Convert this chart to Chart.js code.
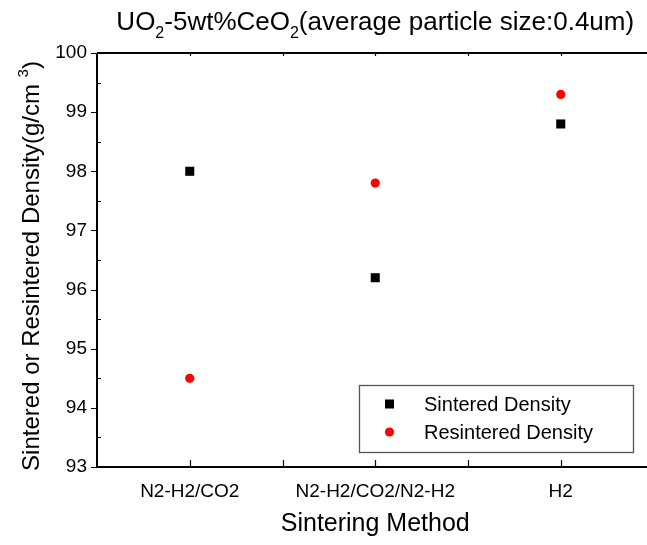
<!DOCTYPE html>
<html>
<head>
<meta charset="utf-8">
<script src="https://cdn.jsdelivr.net/npm/chart.js@4"></script>
<style>
  html, body { margin: 0; padding: 0; background: #fff; }
  #wrap { width: 647px; height: 545px; }
</style>
</head>
<body>
<div id="wrap"><canvas id="density_chart" width="647" height="545"></canvas></div>
<script>
const methods = ['N2-H2/CO2', 'N2-H2/CO2/N2-H2', 'H2'];
const sinteredDensity = [98.0, 96.2, 98.8];
const resinteredDensity = [94.5, 97.8, 99.3];
const xTicks = [1, 1.5, 2, 2.5, 3];
const yTicks = [93, 93.5, 94, 94.5, 95, 95.5, 96, 96.5, 97, 97.5, 98, 98.5, 99, 99.5, 100];

const FONT = "'Liberation Sans', Arial, sans-serif";

function toPoints(values) {
    return values.map(function(v, i) { return {x: i + 1, y: v}; });
}

// draws a run of text pieces, some of them sub/superscript
function drawRich(ctx, parts, x, y, size, align) {
    var small = Math.round(size * 0.62);
    var widths = parts.map(function(p) {
        ctx.font = (p.sub || p.sup ? small : size) + 'px ' + FONT;
        return ctx.measureText(p.t).width;
    });
    var total = widths.reduce(function(a, b) { return a + b; }, 0);
    var cx = align === 'center' ? x - total / 2 : x;
    ctx.textAlign = 'left';
    ctx.textBaseline = 'alphabetic';
    parts.forEach(function(p, i) {
        ctx.font = (p.sub || p.sup ? small : size) + 'px ' + FONT;
        var dy = p.sub ? size * 0.3 : (p.sup ? -size * 0.45 : 0);
        ctx.fillText(p.t, cx, y + dy);
        cx += widths[i];
    });
}

const decorPlugin = {
    id: 'decor',
    afterDraw: function(chart) {
        var ctx = chart.ctx, a = chart.chartArea;
        var xs = chart.scales.x, ys = chart.scales.y;
        ctx.save();
        ctx.strokeStyle = '#000';
        ctx.lineWidth = 2;
        ctx.beginPath();
        ctx.moveTo(a.left, a.top); ctx.lineTo(a.right, a.top);
        ctx.moveTo(a.left, a.top); ctx.lineTo(a.left, a.bottom);
        ctx.moveTo(a.left, a.bottom); ctx.lineTo(a.right, a.bottom);
        ctx.stroke();

        ctx.lineWidth = 1.2;
        ctx.beginPath();
        yTicks.forEach(function(v) {
            var py = Math.round(ys.getPixelForValue(v)) + 0.5;
            if (Number.isInteger(v)) {
                ctx.moveTo(a.left - 6, py); ctx.lineTo(a.left, py);
            } else {
                ctx.moveTo(a.left, py); ctx.lineTo(a.left + 4, py);
            }
        });
        xTicks.forEach(function(v) {
            var px = Math.round(xs.getPixelForValue(v)) + 0.5;
            ctx.moveTo(px, a.bottom); ctx.lineTo(px, a.bottom - 7);
            ctx.moveTo(px, a.top); ctx.lineTo(px, a.top + 3);
        });
        ctx.stroke();

        ctx.fillStyle = '#000';
        var mid = xs.getPixelForValue(2);
        drawRich(ctx, [{t: 'UO'}, {t: '2', sub: true}, {t: '-5wt%CeO'}, {t: '2', sub: true},
            {t: '(average particle size:0.4um)'}], mid, 30, 26, 'center');

        ctx.font = '25px ' + FONT;
        ctx.textAlign = 'center';
        ctx.textBaseline = 'alphabetic';
        ctx.fillText('Sintering Method', mid, 531);

        ctx.save();
        ctx.translate(39, (a.top + a.bottom) / 2 + 6);
        ctx.rotate(-Math.PI / 2);
        drawRich(ctx, [{t: 'Sintered or Resintered Density(g/cm '}, {t: '3', sup: true}, {t: ')'}],
            0, 0, 24, 'center');
        ctx.restore();

        // legend box
        var bx = 359, by = 385, bw = 274, bh = 67;
        ctx.strokeStyle = '#555';
        ctx.lineWidth = 1.3;
        ctx.strokeRect(bx + 0.5, by + 0.5, bw, bh);
        ctx.font = '20px ' + FONT;
        ctx.textAlign = 'left';
        ctx.textBaseline = 'middle';
        chart.data.datasets.forEach(function(ds, i) {
            var ly = by + 19 + i * 28;
            ctx.fillStyle = ds.backgroundColor;
            if (ds.pointStyle === 'rect') {
                ctx.fillRect(bx + 26, ly - 4.5, 9, 9);
            } else {
                ctx.beginPath();
                ctx.arc(bx + 30.5, ly, 4.6, 0, Math.PI * 2);
                ctx.fill();
            }
            ctx.fillStyle = '#000';
            ctx.fillText(ds.label, bx + 65, ly + 1);
        });
        ctx.restore();
    }
};

var ctx_density = document.getElementById('density_chart').getContext('2d');
var densityChart = new Chart(ctx_density, {
    type: 'scatter',
    data: {
        datasets: [{
            label: 'Sintered Density',
            data: toPoints(sinteredDensity),
            pointStyle: 'rect',
            backgroundColor: '#000000',
            borderColor: '#000000',
            pointRadius: 6.4,
            pointBorderWidth: 0,
        }, {
            label: 'Resintered Density',
            data: toPoints(resinteredDensity),
            pointStyle: 'circle',
            backgroundColor: '#ff0000',
            borderColor: '#ff0000',
            pointRadius: 4.6,
            pointBorderWidth: 0,
        }]
    },
    options: {
        responsive: false,
        animation: false,
        layout: { autoPadding: false, padding: { top: 53, left: 0, right: 0, bottom: 0 } },
        plugins: {
            title: { display: false },
            legend: { display: false },
            tooltip: { enabled: false }
        },
        scales: {
            x: {
                type: 'linear',
                min: 0.5,
                max: 0.5 + 550 / 185.5,
                afterBuildTicks: function(scale) {
                    scale.ticks = xTicks.map(function(v) { return {value: v}; });
                },
                afterFit: function(scale) {
                    scale.height = 78;
                    scale.paddingLeft = 0;
                    scale.paddingRight = 0;
                },
                grid: { display: false, drawTicks: false },
                border: { display: false },
                ticks: {
                    autoSkip: false,
                    maxRotation: 0,
                    padding: 13,
                    color: '#000',
                    font: { family: FONT, size: 19 },
                    callback: function(v) {
                        return Number.isInteger(v) ? methods[v - 1] : '';
                    }
                }
            },
            y: {
                min: 93,
                max: 100,
                afterBuildTicks: function(scale) {
                    scale.ticks = yTicks.map(function(v) { return {value: v}; });
                },
                afterFit: function(scale) {
                    scale.width = 97;
                    scale.paddingTop = 0;
                    scale.paddingBottom = 0;
                },
                grid: { display: false, drawTicks: false },
                border: { display: false },
                ticks: {
                    autoSkip: false,
                    padding: 10,
                    color: '#000',
                    font: { family: FONT, size: 19 },
                    callback: function(v) {
                        return Number.isInteger(v) ? String(v) : '';
                    }
                }
            }
        }
    },
    plugins: [decorPlugin]
});
</script>
</body>
</html>
